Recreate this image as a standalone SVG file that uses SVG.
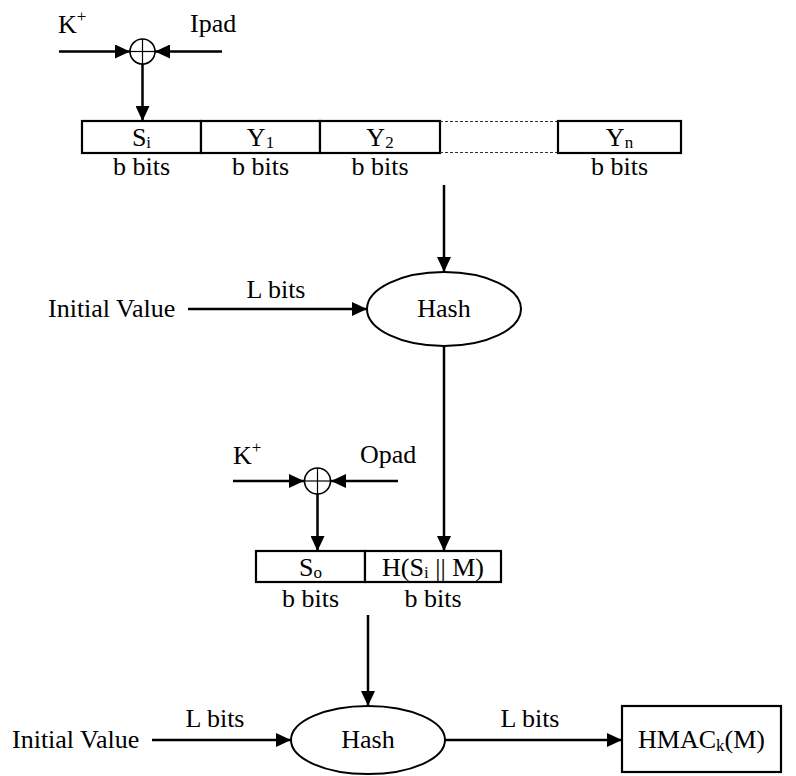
<svg xmlns="http://www.w3.org/2000/svg" width="796" height="776" viewBox="0 0 796 776" font-family="'Liberation Serif', 'Times New Roman', 'DejaVu Serif', serif">
<defs>
<marker id="ah" markerUnits="userSpaceOnUse" markerWidth="15" markerHeight="14" refX="15" refY="7" orient="auto">
<path d="M0,0 L15,7 L0,14 z" fill="#000"/>
</marker>
<style>
text{font-family:'Liberation Serif','Times New Roman','DejaVu Serif',serif;font-size:26px;fill:#000}
.c{text-anchor:middle}
.box{fill:#fff;stroke:#000;stroke-width:2.2}
.dash{fill:none;stroke:#333;stroke-width:1;stroke-dasharray:3 2}
.conn{fill:none;stroke:#000;stroke-width:2.5;marker-end:url(#ah)}
.xor{fill:#fff;stroke:#000;stroke-width:1.6}
.xl{stroke:#000;stroke-width:1.2}
.ell{fill:#fff;stroke:#000;stroke-width:2}
.s{font-size:17px}
</style>
</defs>
<rect width="796" height="776" fill="#fff"/>

<g id="connectors">
<line class="conn" x1="59" y1="51.5" x2="130" y2="51.5"/>
<line class="conn" x1="222" y1="51.5" x2="155" y2="51.5"/>
<line class="conn" x1="142.5" y1="64" x2="142.5" y2="121"/>
<line class="conn" x1="444" y1="185" x2="444" y2="272"/>
<line class="conn" x1="188" y1="309" x2="367" y2="309"/>
<line class="conn" x1="444" y1="346" x2="444" y2="551"/>
<line class="conn" x1="233" y1="481" x2="304" y2="481"/>
<line class="conn" x1="398" y1="481" x2="331" y2="481"/>
<line class="conn" x1="317.5" y1="494" x2="317.5" y2="551"/>
<line class="conn" x1="368" y1="615" x2="368" y2="706"/>
<line class="conn" x1="152" y1="740" x2="291" y2="740"/>
<line class="conn" x1="445" y1="740" x2="622" y2="740"/>
</g>

<g id="xor1">
<circle class="xor" cx="142.5" cy="51.5" r="12.5"/>
<line class="xl" x1="130" y1="51.5" x2="155" y2="51.5"/>
<line class="xl" x1="142.5" y1="39" x2="142.5" y2="64"/>
</g>
<g id="k1"><text x="58" y="33" font-family="'Liberation Serif', serif">K<tspan class="s" dy="-11">+</tspan></text></g>
<g id="ipad"><text x="190" y="32" font-family="'Liberation Serif', serif">Ipad</text></g>

<g id="inner-blocks" font-family="'Liberation Serif', serif">
<rect class="box" x="82" y="121" width="119" height="32"/>
<rect class="box" x="201" y="121" width="119" height="32"/>
<rect class="box" x="320" y="121" width="120" height="32"/>
<line class="dash" x1="440" y1="121.5" x2="558" y2="121.5"/>
<line class="dash" x1="440" y1="152.5" x2="558" y2="152.5"/>
<rect class="box" x="558" y="121" width="123" height="32"/>
<text class="c" x="141.5" y="146">S<tspan class="s" dy="2">i</tspan></text>
<text class="c" x="260.5" y="146">Y<tspan class="s" dy="2">1</tspan></text>
<text class="c" x="380" y="146">Y<tspan class="s" dy="2">2</tspan></text>
<text class="c" x="619.5" y="146">Y<tspan class="s" dy="2">n</tspan></text>
<text class="c" x="141.5" y="175">b bits</text>
<text class="c" x="260.5" y="175">b bits</text>
<text class="c" x="380" y="175">b bits</text>
<text class="c" x="619.5" y="175">b bits</text>
</g>

<g id="iv1" font-family="'Liberation Serif', serif">
<text x="48" y="317">Initial Value</text>
<text class="c" x="276" y="298">L bits</text>
</g>
<g id="hash1" font-family="'Liberation Serif', serif">
<ellipse class="ell" cx="444" cy="309" rx="77" ry="37"/>
<text class="c" x="444" y="317">Hash</text>
</g>

<g id="xor2">
<circle class="xor" cx="317.5" cy="481" r="13"/>
<line class="xl" x1="304.5" y1="481" x2="330.5" y2="481"/>
<line class="xl" x1="317.5" y1="468" x2="317.5" y2="494"/>
</g>
<g id="k2"><text x="233" y="464" font-family="'Liberation Serif', serif">K<tspan class="s" dy="-11">+</tspan></text></g>
<g id="opad"><text x="360" y="463" font-family="'Liberation Serif', serif">Opad</text></g>

<g id="outer-blocks" font-family="'Liberation Serif', serif">
<rect class="box" x="256" y="551" width="109" height="31"/>
<rect class="box" x="365" y="551" width="136" height="31"/>
<text class="c" x="310.5" y="576">S<tspan class="s" dy="2">o</tspan></text>
<text class="c" x="433" y="576">H(S<tspan class="s" dy="2">i</tspan><tspan dy="-2"> || M)</tspan></text>
<text class="c" x="310.5" y="607">b bits</text>
<text class="c" x="433" y="607">b bits</text>
</g>

<g id="iv2" font-family="'Liberation Serif', serif">
<text x="12" y="748">Initial Value</text>
<text class="c" x="215" y="727">L bits</text>
</g>
<g id="hash2" font-family="'Liberation Serif', serif">
<ellipse class="ell" cx="368" cy="740" rx="77" ry="34"/>
<text class="c" x="368" y="748">Hash</text>
</g>
<g id="lbits-out" font-family="'Liberation Serif', serif"><text class="c" x="530" y="727">L bits</text></g>
<g id="hmac" font-family="'Liberation Serif', serif">
<rect class="box" x="622" y="706" width="159" height="66"/>
<text class="c" x="701.5" y="748">HMAC<tspan class="s" dy="3">k</tspan><tspan dy="-3">(M)</tspan></text>
</g>
</svg>
